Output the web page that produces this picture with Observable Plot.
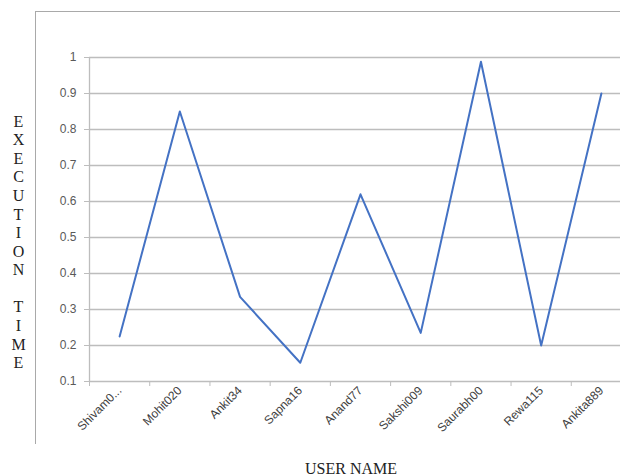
<!DOCTYPE html>
<html>
<head>
<meta charset="utf-8">
<script src="https://cdn.jsdelivr.net/npm/d3@7"></script>
<script src="https://cdn.jsdelivr.net/npm/@observablehq/plot@0.6"></script>
<style>
  html, body { margin: 0; padding: 0; background: #fff; overflow: hidden; }
  #wrap { position: relative; width: 620px; height: 476px; overflow: hidden; }
  #border { position: absolute; left: 35px; top: 11px; width: 640px; height: 432px;
            border-left: 1px solid #a9a9a9; border-top: 1px solid #a9a9a9; }
  #chart { position: absolute; left: 0; top: 0; }
</style>
</head>
<body>
<div id="wrap"><div id="border"></div><div id="chart"></div></div>
<script>
const userNames = ["Shivam0...", "Mohit020", "Ankit34", "Sapna16", "Anand77", "Sakshi009", "Saurabh00", "Rewa115", "Ankita889"];
const executionTimes = [0.225, 0.85, 0.335, 0.152, 0.62, 0.235, 0.988, 0.2, 0.9];
const yTicks = [0.1, 0.2, 0.3, 0.4, 0.5, 0.6, 0.7, 0.8, 0.9, 1];
const yTitle = "EXECUTION  TIME";
const xTitle = "USER NAME";

const data = userNames.map((name, i) => ({pos: i + 0.5, name, t: executionTimes[i]}));
const boundaries = d3.range(0, userNames.length + 1);
const stacked = yTitle.split("").join("\n").replace(" \n \n", " \n");

const chart = Plot.plot({
  width: 620,
  height: 476,
  marginLeft: 89,
  marginRight: 0,
  marginTop: 57,
  marginBottom: 95,
  x: {domain: [0, userNames.length], range: [89, 631], label: null},
  y: {domain: [0.1, 1], label: null},
  style: {fontFamily: "'Liberation Sans', Arial, sans-serif", background: "transparent", overflow: "visible"},
  marks: [
    Plot.ruleY(yTicks.slice(1), {stroke: "#bdbdbd", strokeWidth: 1.3}),
    Plot.ruleY([0.1], {stroke: "#bdbdbd", strokeWidth: 1.3}),
    Plot.ruleX([0], {stroke: "#bdbdbd", strokeWidth: 1.3}),
    Plot.axisY({ticks: yTicks, tickSize: 5, tickPadding: 8, tickFormat: d => String(d),
      stroke: "#bdbdbd", color: "#595959", fontSize: 12, label: null}),
    Plot.axisX({ticks: boundaries, tickSize: 5, tickFormat: () => "", stroke: "#bdbdbd", label: null}),
    Plot.axisX({ticks: data.map(d => d.pos), tickSize: 0, tickPadding: 7, tickRotate: -45,
      tickFormat: v => userNames[Math.floor(v)], color: "#404040", fontSize: 12, label: null}),
    Plot.line(data, {x: "pos", y: "t", stroke: "#4472C4", strokeWidth: 2}),
    Plot.text([stacked], {frameAnchor: "left", dx: -71, dy: 22, fontFamily: "'Liberation Serif', 'Times New Roman', serif",
      fontSize: 16, lineHeight: 1.16, fill: "#222", textAnchor: "middle"}),
    Plot.text([xTitle], {frameAnchor: "bottom", dx: -4, dy: 87, fontFamily: "'Liberation Serif', 'Times New Roman', serif",
      fontSize: 16, fill: "#222", textAnchor: "middle", lineAnchor: "middle"})
  ]
});
document.getElementById("chart").appendChild(chart);
</script>
</body>
</html>
